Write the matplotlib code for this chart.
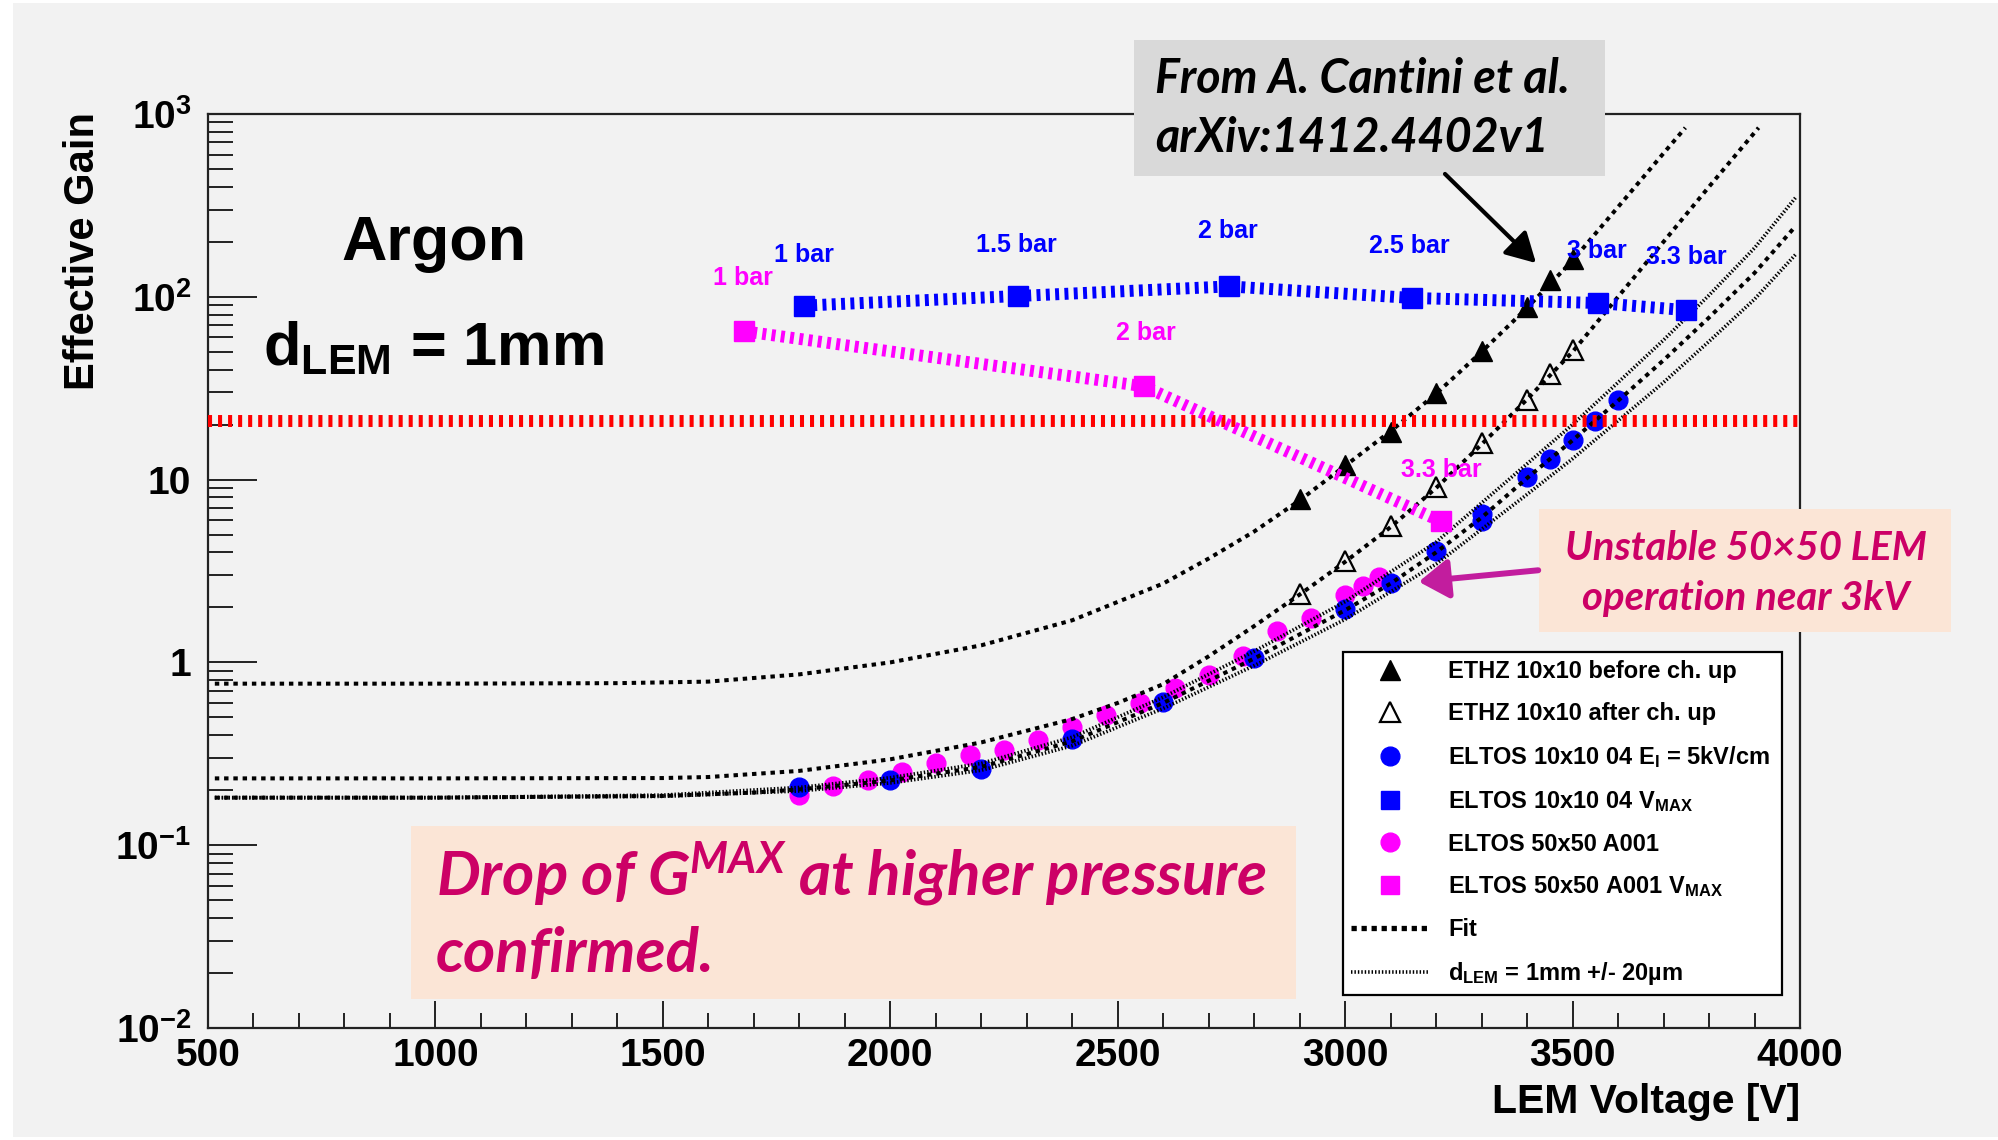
import matplotlib
matplotlib.use("Agg")
import matplotlib.pyplot as plt
from matplotlib.patches import Rectangle, FancyArrowPatch
from matplotlib.lines import Line2D
from matplotlib.ticker import MultipleLocator, LogLocator, NullFormatter

# ---------------- data ----------------
ethz_v = [2900, 3000, 3100, 3200, 3300, 3400, 3450, 3500]
ethz_before_gain = [7.8, 12.0, 18.3, 29.6, 50.4, 88, 124, 162]
ethz_after_gain = [2.38, 3.57, 5.57, 9.1, 15.9, 27.2, 38, 51]

eltos10_v = [1800, 2000, 2200, 2400, 2600, 2800, 3000, 3100, 3200, 3300, 3300,
             3400, 3450, 3500, 3550, 3600]
eltos10_gain = [0.208, 0.228, 0.262, 0.38, 0.61, 1.06, 1.95, 2.72, 4.05, 6.5, 5.9,
                10.3, 12.9, 16.5, 20.9, 27.4]

eltos50_v = [1800, 1875, 1950, 2025, 2100, 2175, 2250, 2325, 2400, 2475, 2550,
             2625, 2700, 2775, 2850, 2925, 3000, 3040, 3075]
eltos50_gain = [0.188, 0.21, 0.228, 0.253, 0.281, 0.312, 0.333, 0.377, 0.446, 0.517,
                0.6, 0.724, 0.857, 1.08, 1.48, 1.75, 2.33, 2.62, 2.93]

vmax10_v = [1810, 2280, 2745, 3148, 3556, 3750]
vmax10_gain = [89.5, 101, 114, 98.5, 92.5, 84.5]
vmax10_labels = ["1 bar", "1.5 bar", "2 bar", "2.5 bar", "3 bar", "3.3 bar"]

vmax50_v = [1678, 2557, 3211]
vmax50_gain = [64.8, 32.4, 5.9]
vmax50_labels = ["1 bar", "2 bar", "3.3 bar"]

threshold_gain = 20.9

fit_before_v = [515, 1000, 1400, 1600, 1800, 2000, 2200, 2400, 2600, 2700, 2800, 2900,
                3000, 3100, 3200, 3300, 3400, 3500, 3600, 3700, 3748]
fit_before_gain = [0.765, 0.765, 0.77, 0.785, 0.86, 1.0, 1.24, 1.7, 2.7, 3.7, 5.2, 7.7,
                   11.9, 18.4, 29.5, 50, 87, 158, 310, 610, 841]

fit_after_v = [515, 1000, 1500, 1600, 1800, 2000, 2200, 2400, 2500, 2600, 2700, 2800,
               2900, 3000, 3100, 3200, 3300, 3400, 3500, 3600, 3700, 3800, 3909]
fit_after_gain = [0.232, 0.232, 0.233, 0.236, 0.255, 0.295, 0.365, 0.49, 0.6, 0.76,
                  1.08, 1.58, 2.35, 3.55, 5.5, 9.0, 15.6, 27.5, 50, 100, 200, 400, 841]

fit_eltos_v = [515, 1000, 1500, 1700, 1800, 2000, 2200, 2400, 2600, 2800, 3000, 3100,
               3200, 3300, 3400, 3500, 3600, 3700, 3800, 3900, 3990]
fit_eltos_gain = [0.182, 0.182, 0.186, 0.194, 0.202, 0.226, 0.268, 0.37, 0.6, 1.05,
                  1.93, 2.7, 4.0, 6.2, 10.2, 16.4, 27, 45, 77, 135, 243]

dlem_v = [515, 1000, 1500, 1800, 2000, 2200, 2400, 2600, 2800, 3000, 3200, 3400,
          3500, 3600, 3700, 3800, 3900, 3990]
dlem_upper_gain = [0.182, 0.182, 0.188, 0.207, 0.234, 0.28, 0.39, 0.645, 1.15, 2.15,
                   4.55, 12.2, 20, 34, 58, 102, 185, 348]
dlem_lower_gain = [0.182, 0.182, 0.185, 0.198, 0.219, 0.257, 0.35, 0.56, 0.96, 1.72,
                   3.45, 8.3, 13, 21, 34, 57, 97, 170]

x_ticks = [500, 1000, 1500, 2000, 2500, 3000, 3500, 4000]
x_tick_labels = ["500", "1000", "1500", "2000", "2500", "3000", "3500", "4000"]
y_ticks = [1e-2, 1e-1, 1, 10, 1e2, 1e3]
y_tick_labels = ["$10^{-2}$", "$10^{-1}$", "1", "10", "$10^{2}$", "$10^{3}$"]

legend_labels = [
    "ETHZ 10x10 before ch. up",
    "ETHZ 10x10 after ch. up",
    "ELTOS 10x10 04 E$_{I}$ = 5kV/cm",
    "ELTOS 10x10 04 V$_{MAX}$",
    "ELTOS 50x50 A001",
    "ELTOS 50x50 A001 V$_{MAX}$",
    "Fit",
    "d$_{LEM}$ = 1mm +/- 20\u00b5m",
]

# label anchor positions (layout, data coordinates)
vmax10_label_pos = [(1811, 170), (2277, 193), (2742, 229), (3140, 189), (3553, 178), (3750, 166)]
vmax50_label_pos = [(1675, 127), (2562, 63.5), (3211, 11.35)]

# ---------------- style ----------------
plt.rcParams['font.family'] = ['Liberation Sans', 'DejaVu Sans']
plt.rcParams['font.weight'] = 'bold'
plt.rcParams['mathtext.default'] = 'regular'

W, H = 1998, 1140
BG = '#F2F2F2'
BLUE = '#0000FF'
MAG = '#FF00FF'
CRIMSON = '#CC0066'
PEACH = '#FBE5D6'


def fx(px):
    return px / W


def fy(py):
    return 1 - py / H


fig = plt.figure(figsize=(W / 100, H / 100), dpi=100)
fig.patch.set_facecolor('white')
fig.add_artist(Rectangle((fx(13), fy(1137)), (W - 13) / W, (1137 - 3) / H,
                         transform=fig.transFigure, facecolor=BG, edgecolor='none', zorder=-5))

ax = fig.add_axes([fx(208), fy(1028), (1800 - 208) / W, (1028 - 114) / H])
ax.set_facecolor(BG)
ax.set_yscale('log')
ax.set_xlim(500, 4000)
ax.set_ylim(1e-2, 1e3)

# threshold line
ax.axhline(threshold_gain, color='#FF0000', lw=8.6, ls=(0, (0.34, 0.5)),
           dash_capstyle='butt', zorder=4.5)

# data markers
ax.plot(eltos50_v, eltos50_gain, ls='none', marker='o', ms=13.5, color=MAG, zorder=3)
ax.plot(eltos10_v, eltos10_gain, ls='none', marker='o', ms=13.5, color=BLUE, zorder=3.1)
ax.plot(ethz_v, ethz_before_gain, ls='none', marker='^', ms=15, color='k', zorder=3.2)
ax.plot(ethz_v, ethz_after_gain, ls='none', marker='^', ms=15, mfc='none',
        mec='k', mew=1.6, zorder=3.2)

# fits
fit_style = dict(color='k', lw=2.9, ls=(0, (1.1, 1.2)), dash_capstyle='butt', zorder=4)
ax.plot(fit_before_v, fit_before_gain, **fit_style)
ax.plot(fit_after_v, fit_after_gain, **fit_style)
ax.plot(fit_eltos_v, fit_eltos_gain, **fit_style)
dot_style = dict(color='k', lw=2.6, ls=(0, (0.4, 0.55)), dash_capstyle='butt', zorder=4)
ax.plot(dlem_v, dlem_upper_gain, **dot_style)
ax.plot(dlem_v, dlem_lower_gain, **dot_style)

# VMAX graphs
ax.plot(vmax50_v, vmax50_gain, color=MAG, lw=8.6, ls=(0, (0.33, 0.45)), dash_capstyle='butt',
        marker='s', ms=14, zorder=5)
ax.plot(vmax10_v, vmax10_gain, color=BLUE, lw=8.6, ls=(0, (0.33, 0.45)), dash_capstyle='butt',
        marker='s', ms=14, zorder=5.1)
for (x, y), s in zip(vmax10_label_pos, vmax10_labels):
    ax.text(x, y, s, color=BLUE, fontsize=18, fontweight='bold', ha='center', va='center', zorder=6)
for (x, y), s in zip(vmax50_label_pos, vmax50_labels):
    ax.text(x, y, s, color=MAG, fontsize=18, fontweight='bold', ha='center', va='center', zorder=6)

# axes / ticks
ax.set_xticks(x_ticks)
ax.set_xticklabels(x_tick_labels)
ax.xaxis.set_minor_locator(MultipleLocator(100))
ax.set_yticks(y_ticks)
ax.set_yticklabels(y_tick_labels)
ax.yaxis.set_minor_locator(LogLocator(base=10, subs=range(2, 10), numticks=30))
ax.yaxis.set_minor_formatter(NullFormatter())
ax.tick_params(axis='both', which='both', direction='in', top=False, right=False,
               color='#222222')
ax.tick_params(axis='x', which='major', length=19.4, width=1.4, pad=7, labelsize=28)
ax.tick_params(axis='x', which='minor', length=10.8, width=1.4)
ax.tick_params(axis='y', which='major', length=35, width=1.4, pad=12, labelsize=28)
ax.tick_params(axis='y', which='minor', length=18, width=1.4)
for sp in ax.spines.values():
    sp.set_linewidth(1.6)
    sp.set_color('#222222')

# legend
handles = [
    Line2D([], [], ls='none', marker='^', ms=15, color='k'),
    Line2D([], [], ls='none', marker='^', ms=15, mfc='none', mec='k', mew=1.6),
    Line2D([], [], ls='none', marker='o', ms=13.5, color=BLUE),
    Line2D([], [], ls='none', marker='s', ms=13, color=BLUE),
    Line2D([], [], ls='none', marker='o', ms=13.5, color=MAG),
    Line2D([], [], ls='none', marker='s', ms=13, color=MAG),
    Line2D([], [], color='k', lw=3.8, ls=(0, (1.0, 0.9)), dash_capstyle='butt'),
    Line2D([], [], color='k', lw=2.6, ls=(0, (0.4, 0.55)), dash_capstyle='butt'),
]
leg = ax.legend(handles, legend_labels, loc='upper left',
                bbox_to_anchor=(fx(1343), fy(993), (1782 - 1343) / W, (993 - 652) / H),
                bbox_transform=fig.transFigure, mode='expand', borderaxespad=0,
                frameon=True, fancybox=False, framealpha=1, facecolor='white',
                edgecolor='k', fontsize=17, handlelength=3.26, handletextpad=0.85,
                labelspacing=0.8, borderpad=0.35)
leg.get_frame().set_linewidth(1.6)
leg.set_zorder(10)

# axis titles
fig.text(fx(83), fy(112), "Effective Gain", rotation=90, ha='center', va='top',
         fontsize=30, fontweight='bold')
fig.text(fx(1800), fy(1113), "LEM Voltage [V]", ha='right', va='baseline',
         fontsize=29.4, fontweight='bold')

# in-plot annotations
t_argon = fig.text(fx(434), fy(260), "Argon", ha='center', va='baseline',
                   fontsize=44, fontweight='bold')
t_dlem = fig.text(fx(263), fy(365), "d$_{LEM}$ = 1mm", ha='left', va='baseline',
                  fontsize=44, fontweight='bold')

# boxes
fig.add_artist(Rectangle((fx(411), fy(999)), (1296 - 411) / W, (999 - 826) / H,
                         transform=fig.transFigure, facecolor=PEACH, edgecolor='none', zorder=5))
fig.add_artist(Rectangle((fx(1539), fy(632)), (1951 - 1539) / W, (632 - 509) / H,
                         transform=fig.transFigure, facecolor=PEACH, edgecolor='none', zorder=5))
fig.add_artist(Rectangle((fx(1134), fy(176)), (1605 - 1134) / W, (176 - 40) / H,
                         transform=fig.transFigure, facecolor='#D9D9D9', edgecolor='none', zorder=5))

cal = dict(family=['Lato', 'DejaVu Sans'], fontweight='bold', style='italic', zorder=6)
t_drop1 = fig.text(fx(436), fy(895), "Drop of G$^{MAX}$ at higher pressure",
                   ha='left', va='baseline', color=CRIMSON, fontsize=40, **cal)
t_drop2 = fig.text(fx(436), fy(972), "confirmed.", ha='left', va='baseline',
                   color=CRIMSON, fontsize=40, **cal)
t_uns1 = fig.text(fx(1746), fy(560), "Unstable 50\u00d750 LEM", ha='center', va='baseline',
                  color=CRIMSON, fontsize=28, **cal)
t_uns2 = fig.text(fx(1746), fy(610), "operation near 3kV", ha='center', va='baseline',
                  color=CRIMSON, fontsize=28, **cal)
t_from1 = fig.text(fx(1155), fy(93), "From A. Cantini et al.", ha='left', va='baseline',
                   color='black', fontsize=30, **cal)
t_from2 = fig.text(fx(1155), fy(152), "arXiv:1412.4402v1", ha='left', va='baseline',
                   color='black', fontsize=30, **cal)

renderer = fig.canvas.get_renderer()


def fit_width(texts, target_px):
    w = texts[0].get_window_extent(renderer=renderer).width
    scale = target_px / w
    for t in texts:
        t.set_fontsize(t.get_fontsize() * scale)


fit_width([t_drop1, t_drop2], 830)
fit_width([t_uns1, t_uns2], 362)
fit_width([t_from1, t_from2], 415)
fit_width([t_argon], 185)
fit_width([t_dlem], 341)

# arrows
fig.add_artist(FancyArrowPatch((fx(1443), fy(172)), (fx(1538), fy(265)),
                               transform=fig.transFigure, arrowstyle='-|>,head_length=0.45,head_width=0.25',
                               mutation_scale=40, color='black', lw=3.0, zorder=7))
fig.add_artist(FancyArrowPatch((fx(1541), fy(570)), (fx(1416), fy(582)),
                               transform=fig.transFigure, arrowstyle='-|>,head_length=0.45,head_width=0.3',
                               mutation_scale=40, color='#C21D9E', lw=4.3, zorder=7))

fig.savefig("out.png", dpi=100, facecolor=fig.get_facecolor())
